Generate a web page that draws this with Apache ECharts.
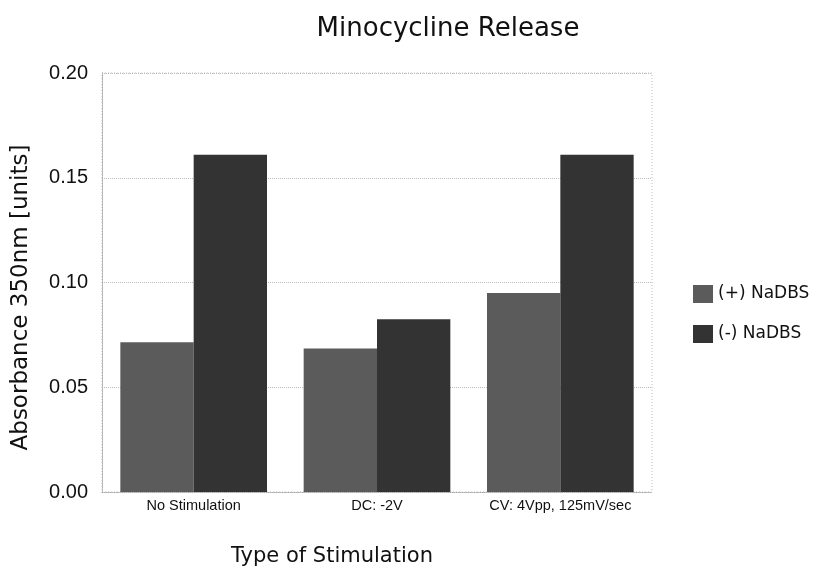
<!DOCTYPE html>
<html>
<head>
<meta charset="utf-8">
<script src="https://cdn.jsdelivr.net/npm/echarts@6/dist/echarts.min.js"></script>
<style>
  html, body { margin: 0; padding: 0; background: #fff; }
  #chart { width: 814px; height: 573px; }
</style>
</head>
<body>
<div id="chart"></div>
<script>
// stimulation types
const categories = ['No Stimulation', 'DC: -2V', 'CV: 4Vpp, 125mV/sec'];
const withNaDBS = [0.0715, 0.0685, 0.095];
const withoutNaDBS = [0.161, 0.0825, 0.161];

const wideFont = 'DejaVu Sans, Liberation Sans, sans-serif';

const myChart = echarts.init(document.getElementById('chart'));

const option = {
  animation: false,
  textStyle: { fontFamily: 'Liberation Sans, Arial, sans-serif' },
  title: {
    text: 'Minocycline Release',
    left: 443,
    top: 11,
    textAlign: 'center',
    textStyle: { fontSize: 26, fontWeight: 'normal', color: '#111', fontFamily: wideFont },
  },
  legend: {
    orient: 'vertical',
    left: 688,
    top: 280,
    itemWidth: 20,
    itemHeight: 18,
    itemGap: 22,
    icon: 'rect',
    textStyle: { fontSize: 17, color: '#111', fontFamily: wideFont },
    data: ['(+) NaDBS', '(-) NaDBS'],
  },
  grid: { left: 102, right: 162, top: 73, bottom: 81 },
  xAxis: {
    type: 'category',
    data: categories,
    name: 'Type of Stimulation',
    nameLocation: 'middle',
    nameGap: 54,
    nameTextStyle: { fontSize: 21, color: '#111', fontFamily: wideFont, padding: [0, 90, 0, 0] },
    axisTick: { show: false },
    axisLine: { lineStyle: { color: '#aaa', type: 'dotted' } },
    axisLabel: { fontSize: 14.5, color: '#111', margin: 6, interval: 0 },
  },
  yAxis: {
    type: 'value',
    min: 0,
    max: 0.2,
    interval: 0.05,
    name: 'Absorbance 350nm [units]',
    nameLocation: 'middle',
    nameGap: 69,
    nameTextStyle: { fontSize: 23, color: '#111', fontFamily: wideFont, padding: [0, 30, 0, 0] },
    axisLine: { show: true, lineStyle: { color: '#aaa', type: 'dotted' } },
    axisTick: { show: false },
    axisLabel: {
      fontSize: 20,
      color: '#111',
      margin: 14,
      formatter: (v) => v.toFixed(2),
    },
    splitLine: { lineStyle: { color: '#bbb', type: 'dotted' } },
  },
  series: [
    {
      name: '(+) NaDBS',
      type: 'bar',
      data: withNaDBS,
      barGap: '0%',
      barCategoryGap: '20%',
      itemStyle: { color: '#5b5b5b' },
    },
    {
      name: '(-) NaDBS',
      type: 'bar',
      data: withoutNaDBS,
      itemStyle: { color: '#333333' },
    },
  ],
  graphic: [
    {
      type: 'rect',
      shape: { x: 102, y: 73, width: 550, height: 419 },
      style: { fill: 'none', stroke: '#bbb', lineWidth: 1, lineDash: [1, 2] },
      silent: true,
    },
  ],
};

myChart.setOption(option);
</script>
</body>
</html>
